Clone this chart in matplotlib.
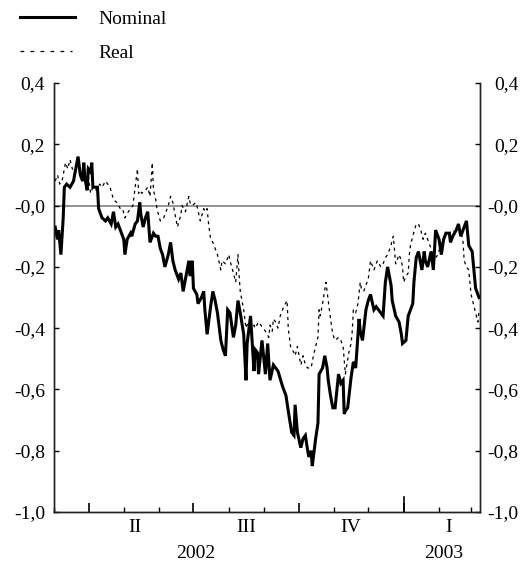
import matplotlib

matplotlib.use('Agg')
import matplotlib.pyplot as plt
import matplotlib.transforms as mtransforms
from matplotlib.lines import Line2D
import pandas as pd

plt.rcParams['font.family'] = ['Liberation Serif', 'DejaVu Serif']
plt.rcParams['font.size'] = 14

# --- DATA (days counted from 1 March 2002) ---
START = pd.Timestamp('2002-03-01')

nominal_day = [1, 3, 4, 6, 8, 9, 11, 14, 17, 19, 21, 23, 25, 26, 27, 29, 30, 32, 33, 34,
               38, 39, 42, 45, 47, 50, 52, 54, 56, 58, 61, 62, 64, 67, 68, 71, 73, 75, 76, 78,
               80, 82, 84, 87, 89, 91, 93, 95, 97, 100, 102, 104, 106, 109, 111, 113, 116, 118, 119, 121,
               122, 125, 126, 129, 131, 132, 134, 137, 139, 141, 143, 146, 148, 150, 152, 154, 157, 159, 161, 163,
               166, 168, 169, 172, 175, 176, 178, 179, 182, 185, 187, 189, 192, 194, 196, 200, 203, 205, 208, 210,
               211, 213, 216, 218, 220, 222, 223, 225, 226, 229, 231, 232, 235, 237, 239, 240, 242, 244, 246, 249,
               251, 253, 254, 255, 257, 260, 262, 264, 267, 268, 270, 273, 275, 277, 280, 282, 284, 288, 290, 292,
               295, 296, 299, 302, 304, 305, 308, 310, 312, 314, 315, 317, 319, 322, 324, 325, 327, 330, 332, 334,
               337, 339, 341, 343, 346, 347, 349, 352, 354, 356, 358, 361, 363, 366, 368, 369, 372]
nominal_val = [-0.07, -0.11, -0.08, -0.16, -0.04, 0.06, 0.07, 0.06, 0.08, 0.12, 0.16, 0.10, 0.08, 0.14, 0.09, 0.05, 0.12, 0.11, 0.14, 0.06,
               0.06, -0.01, -0.04, -0.05, -0.04, -0.06, -0.02, -0.07, -0.06, -0.08, -0.11, -0.16, -0.11, -0.09, -0.10, -0.06, -0.05, 0.01, -0.03, -0.07,
               -0.04, -0.02, -0.12, -0.09, -0.10, -0.10, -0.14, -0.16, -0.20, -0.16, -0.12, -0.18, -0.21, -0.24, -0.22, -0.28, -0.22, -0.18, -0.23, -0.18,
               -0.27, -0.29, -0.32, -0.30, -0.28, -0.34, -0.42, -0.33, -0.28, -0.31, -0.35, -0.44, -0.47, -0.49, -0.34, -0.35, -0.43, -0.39, -0.31, -0.35,
               -0.42, -0.57, -0.45, -0.36, -0.54, -0.47, -0.48, -0.55, -0.44, -0.55, -0.45, -0.57, -0.52, -0.53, -0.54, -0.59, -0.62, -0.67, -0.74, -0.75,
               -0.65, -0.74, -0.79, -0.76, -0.75, -0.80, -0.82, -0.80, -0.85, -0.76, -0.71, -0.55, -0.53, -0.49, -0.53, -0.57, -0.62, -0.66, -0.66, -0.55,
               -0.58, -0.57, -0.68, -0.67, -0.66, -0.56, -0.51, -0.53, -0.37, -0.41, -0.44, -0.34, -0.31, -0.29, -0.34, -0.33, -0.34, -0.36, -0.25, -0.20,
               -0.26, -0.31, -0.36, -0.38, -0.42, -0.45, -0.44, -0.36, -0.34, -0.32, -0.25, -0.17, -0.15, -0.21, -0.15, -0.18, -0.20, -0.15, -0.21, -0.08,
               -0.11, -0.16, -0.11, -0.09, -0.09, -0.12, -0.10, -0.08, -0.06, -0.10, -0.08, -0.05, -0.13, -0.15, -0.23, -0.27, -0.30]

real_day = [1, 3, 5, 7, 10, 12, 14, 16, 18, 21, 23, 25, 27, 29, 32, 34, 37, 40, 42, 45,
            47, 49, 52, 55, 58, 60, 62, 65, 67, 69, 71, 73, 74, 75, 77, 80, 82, 84, 86, 87,
            89, 90, 93, 96, 97, 100, 102, 104, 106, 108, 111, 112, 115, 118, 119, 121, 124, 125, 128, 131,
            132, 134, 135, 137, 139, 141, 143, 146, 147, 150, 153, 154, 157, 159, 161, 162, 163, 166, 168, 170,
            172, 175, 176, 179, 181, 183, 185, 188, 189, 191, 192, 194, 196, 198, 201, 204, 205, 207, 210, 211,
            213, 216, 218, 220, 222, 225, 227, 229, 231, 232, 233, 235, 238, 240, 242, 244, 246, 249, 251, 253,
            255, 258, 260, 261, 262, 264, 266, 268, 269, 271, 273, 275, 277, 280, 282, 283, 286, 288, 290, 292,
            293, 295, 296, 297, 299, 302, 304, 305, 306, 308, 310, 311, 312, 314, 317, 319, 321, 323, 325, 328,
            330, 332, 334, 336, 339, 341, 343, 346, 349, 352, 354, 356, 358, 359, 361, 363, 365, 367, 369, 371,
            372]
real_val = [0.08, 0.10, 0.07, 0.08, 0.14, 0.12, 0.15, 0.12, 0.11, 0.14, 0.10, 0.12, 0.10, 0.12, 0.04, 0.06, 0.05, 0.07, 0.06, 0.08,
            0.07, 0.06, 0.02, 0.01, -0.01, -0.01, -0.04, -0.02, -0.01, 0.00, 0.06, 0.12, 0.04, 0.05, 0.04, 0.05, 0.06, 0.03, 0.14, 0.05,
            0.02, -0.01, -0.05, -0.04, -0.03, 0.00, 0.03, 0.01, -0.03, -0.07, -0.03, 0.00, -0.02, 0.03, 0.01, 0.00, 0.01, 0.00, -0.05, -0.01,
            -0.02, -0.01, -0.05, -0.11, -0.12, -0.14, -0.16, -0.21, -0.18, -0.19, -0.16, -0.18, -0.22, -0.25, -0.16, -0.23, -0.28, -0.34, -0.40, -0.38,
            -0.41, -0.39, -0.40, -0.38, -0.39, -0.40, -0.41, -0.43, -0.39, -0.41, -0.37, -0.38, -0.40, -0.36, -0.33, -0.31, -0.40, -0.46, -0.48, -0.49,
            -0.46, -0.52, -0.49, -0.52, -0.53, -0.53, -0.49, -0.46, -0.43, -0.34, -0.36, -0.32, -0.25, -0.31, -0.37, -0.42, -0.44, -0.43, -0.44, -0.46,
            -0.55, -0.48, -0.45, -0.41, -0.34, -0.35, -0.32, -0.25, -0.27, -0.28, -0.26, -0.24, -0.18, -0.21, -0.19, -0.18, -0.20, -0.19, -0.17, -0.16,
            -0.15, -0.13, -0.11, -0.10, -0.19, -0.16, -0.18, -0.20, -0.25, -0.23, -0.22, -0.16, -0.13, -0.10, -0.06, -0.06, -0.08, -0.11, -0.09, -0.12,
            -0.14, -0.18, -0.17, -0.16, -0.12, -0.11, -0.10, -0.09, -0.08, -0.09, -0.09, -0.08, -0.12, -0.18, -0.20, -0.21, -0.29, -0.32, -0.35, -0.38,
            -0.34]

y_ticks = [-1.0, -0.8, -0.6, -0.4, -0.2, 0.0, 0.2, 0.4]
y_labels = ['-1,0', '-0,8', '-0,6', '-0,4', '-0,2', '-0,0', '0,2', '0,4']

quarter_labels = ['II', 'III', 'IV', 'I']
quarter_label_dates = ['2002-05-11', '2002-08-16', '2002-11-16', '2003-02-09']
year_labels = ['2002', '2003']
year_label_dates = ['2002-07-03', '2003-02-05']

quarter_starts = ['2002-04-01', '2002-07-01', '2002-10-01', '2003-01-01']
year_start = '2003-01-01'

# --- FIGURE ---
fig = plt.figure(figsize=(5.3, 5.61), dpi=100)
ax = fig.add_axes([0.102, 0.0873, 0.804, 0.7647])

nom_x = START + pd.to_timedelta(nominal_day, unit='D')
real_x = START + pd.to_timedelta(real_day, unit='D')

ax.axhline(0, color='#808080', lw=1.2, zorder=1)
ax.plot(real_x, real_val, color='black', lw=0.9, linestyle=(0, (2.5, 3)), zorder=2)
ax.plot(nom_x, nominal_val, color='black', lw=2.2, solid_joinstyle='miter', zorder=3)

ax.set_xlim(START, START + pd.Timedelta(days=373))
ax.set_ylim(-1.0, 0.4)

# y axis (left)
ax.set_yticks(y_ticks)
ax.set_yticklabels(y_labels)
ax.tick_params(axis='y', direction='in', length=3.6, width=1, pad=6.5, labelsize=14)

# y axis (right)
ax2 = ax.twinx()
ax2.set_ylim(-1.0, 0.4)
ax2.set_yticks(y_ticks)
ax2.set_yticklabels(y_labels)
ax2.tick_params(axis='y', direction='in', length=3.6, width=1, pad=27.5, labelsize=14)
for lab in ax2.get_yticklabels():
    lab.set_horizontalalignment('right')

# x axis: monthly minor ticks, quarterly major ticks
months = pd.date_range('2002-03-01', '2003-03-01', freq='MS')
q_dates = pd.to_datetime(quarter_starts)
ax.set_xticks([m for m in months if m not in q_dates], minor=True)
ax.set_xticks(q_dates)
ax.set_xticklabels([])
ax.tick_params(axis='x', which='major', direction='in', length=6.5, width=1.2)
ax.tick_params(axis='x', which='minor', direction='in', length=3.6, width=1)
trans = mtransforms.blended_transform_factory(ax.transData, ax.transAxes)
ax.plot([pd.Timestamp(year_start)] * 2, [0, 0.035], color='black', lw=1.2,
        transform=trans, clip_on=False)

for lab, d in zip(quarter_labels, quarter_label_dates):
    ax.text(pd.Timestamp(d), -0.035, lab, transform=trans, ha='center', va='center')
for lab, d in zip(year_labels, year_label_dates):
    ax.text(pd.Timestamp(d), -0.096, lab, transform=trans, ha='center', va='center')

for a in (ax, ax2):
    a.spines['top'].set_visible(False)
    for s in ('left', 'right', 'bottom'):
        a.spines[s].set_color('#222222')
        a.spines[s].set_linewidth(1)

# --- LEGEND (above plot, top-left) ---
fig.add_artist(Line2D([20 / 530, 75 / 530], [1 - 17 / 561] * 2, color='black', lw=2.2))
fig.add_artist(Line2D([20 / 530, 72 / 530], [1 - 51 / 561] * 2, color='black', lw=0.9,
                      linestyle=(0, (3, 5))))
fig.text(98 / 530, 1 - 20 / 561, 'Nominal', va='center', ha='left')
fig.text(98 / 530, 1 - 53 / 561, 'Real', va='center', ha='left')

fig.savefig('out.png', dpi=100)
